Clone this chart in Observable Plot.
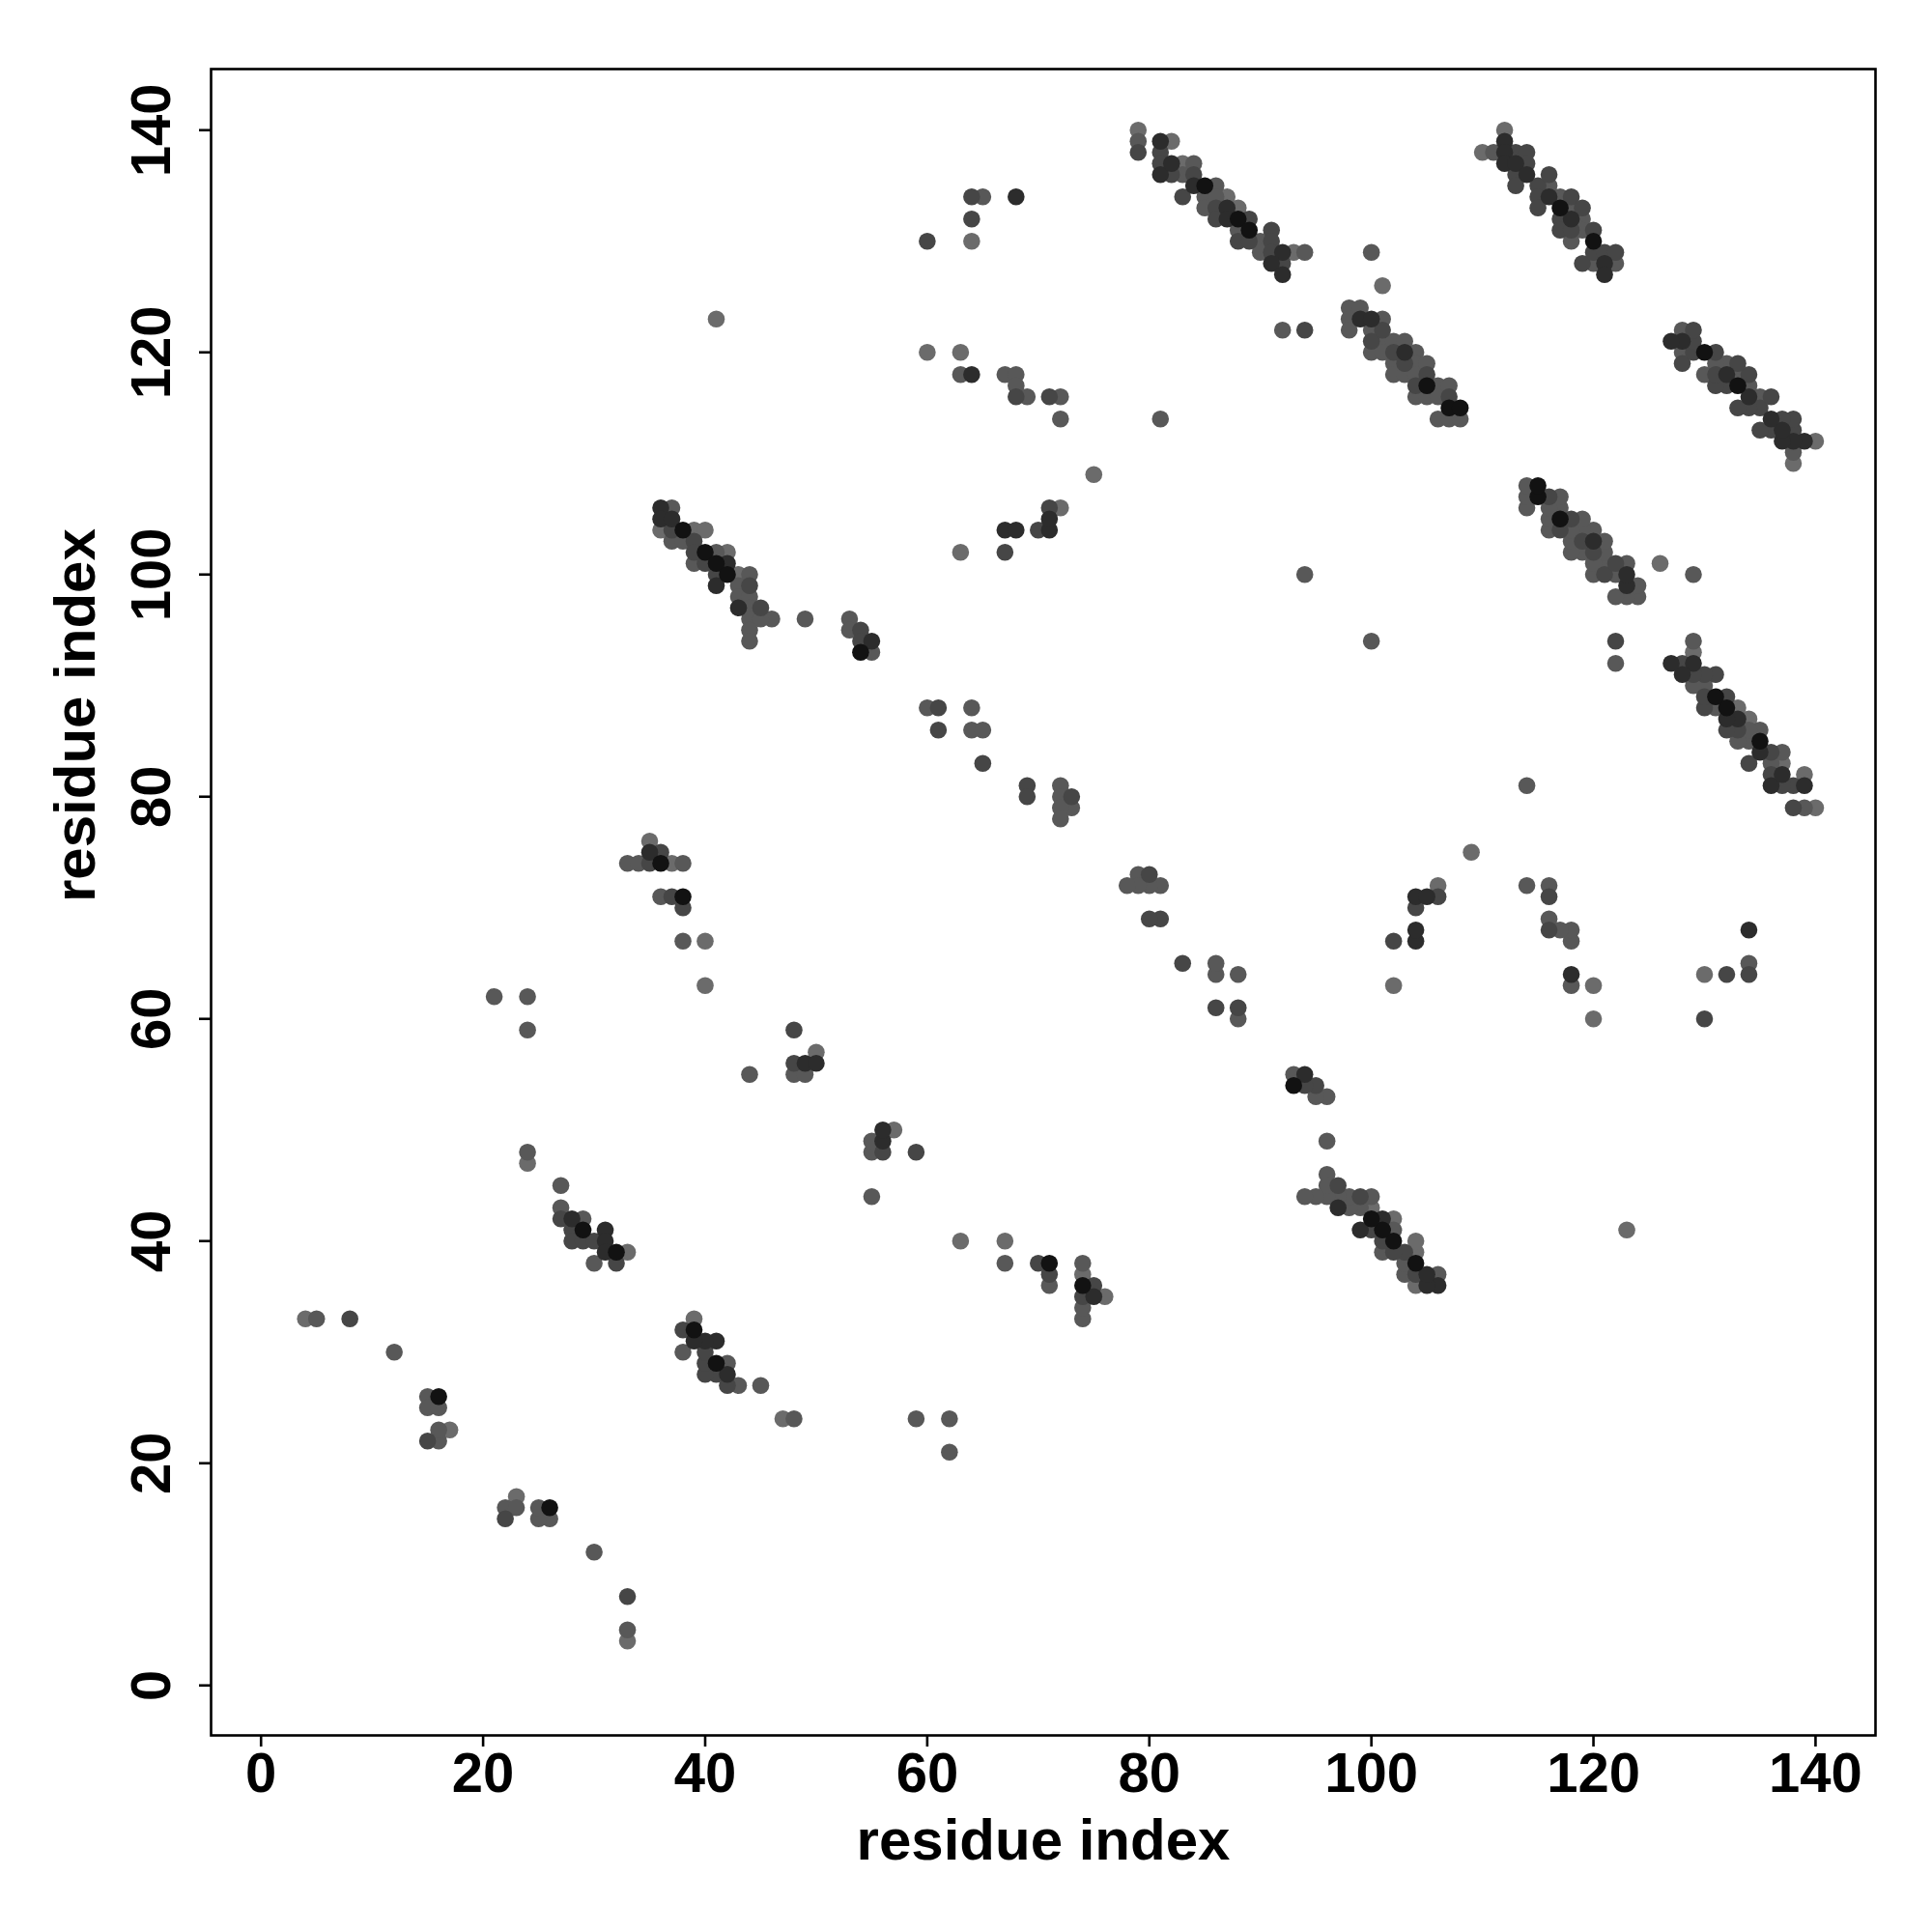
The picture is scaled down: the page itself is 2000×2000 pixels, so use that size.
<!DOCTYPE html>
<html><head><meta charset="utf-8">
<script src="https://cdn.jsdelivr.net/npm/d3@7"></script>
<script src="https://cdn.jsdelivr.net/npm/@observablehq/plot@0.6"></script>
<style>
body{margin:0;background:#fff}
#chart svg text{font-weight:700}
</style>
</head><body><div id="chart"></div>
<script>
// Tick values and titles
const xTicks = [0, 20, 40, 60, 80, 100, 120, 140];
const yTicks = [0, 20, 40, 60, 80, 100, 120, 140];
const axisTitleX = "residue index";
const axisTitleY = "residue index";

// Shade levels of the contact dots (1 = lightest grey, 5 = near black)
const shadeLevels = [1, 2, 3, 4, 5];
const shadeColors = ["#6b6b6b", "#585858", "#464646", "#2c2c2c", "#121212"];

// Contact pairs [residue i, residue j, shade]; each pair is drawn at (i,j) and (j,i)
const contactsNterm = [
  [4,33,1],[5,33,2],[8,33,3],[12,30,2],
  [15,26,2],[16,26,5],[15,25,2],[16,25,2],[15,22,3],[16,22,2],[16,23,2],[17,23,1],
  [21,62,2],[24,62,2],[24,59,2],[24,48,2],[24,47,1]
];
const contactsHairpin1 = [
  [27,45,2],[27,43,2],[27,42,3],[28,42,4],[29,42,2],[29,41,5],[28,41,3],[28,40,3],
  [29,40,3],[30,40,3],[31,41,4],[31,40,4],[31,39,4],[32,39,5],[33,39,1],[30,38,2],[32,38,3]
];
const contactsStrand35_74 = [
  [33,74,2],[34,74,2],[35,74,3],[36,74,5],[37,74,1],[38,74,2],[35,75,4],[36,75,3],[35,76,1],
  [36,71,2],[37,71,3],[38,71,5],[38,70,3],[38,67,2],[40,67,1],[40,63,1]
];
const contactsSheet40_100 = [
  [36,106,4],[37,106,2],[36,105,4],[37,105,4],[36,104,1],[37,104,3],[38,104,5],[39,104,1],[40,104,1],
  [37,103,2],[38,103,2],[39,103,3],[39,102,3],[39,101,2],[40,102,5],[41,102,2],[42,102,1],
  [40,101,3],[41,101,5],[42,101,4],[42,100,5],[41,100,3],[41,99,4],[43,100,1],[44,100,2],
  [43,99,2],[44,99,3],[43,98,2],[44,98,2],[43,97,4],[44,97,2],[45,97,3],[46,96,2],
  [44,96,2],[45,96,2],[44,95,2],[44,94,2]
];
const contactsMiddle = [
  [41,123,1],[44,55,2],[48,59,3],[48,56,3],[49,56,4],[50,57,1],[50,56,4],[48,55,2],[49,55,2],
  [49,96,2],[53,96,2],[53,95,2],[54,95,3],[54,94,3],[55,94,4],[54,93,5],[55,93,2],
  [60,88,2],[61,88,3],[64,88,2],[61,86,3],[64,86,2],[65,86,2],[65,83,3],[69,81,3],[69,80,3],
  [72,81,2],[72,80,2],[73,80,3],[73,79,2],[72,79,2],[72,78,2]
];
const contactsUpper = [
  [60,130,3],[64,134,3],[65,134,2],[64,132,3],[64,130,1],[68,134,4],
  [60,120,1],[63,120,1],[63,118,2],[64,118,4],[67,118,2],[68,118,2],[68,117,2],[68,116,3],
  [69,116,2],[71,116,3],[72,116,2],[72,114,2],
  [63,102,1],[67,104,4],[68,104,4],[67,102,3],[70,104,3],[71,104,4],[71,105,4],[71,106,3],[72,106,1],
  [75,109,1],[81,114,2],[92,122,2],[94,122,3],[94,100,2],[100,129,2],[101,126,1]
];
const contactsSheet85_135 = [
  [79,140,1],[79,139,2],[79,138,3],[81,139,4],[82,139,1],[81,138,3],[81,137,3],[81,136,4],
  [82,137,4],[82,136,3],[83,137,1],[84,137,2],[83,136,2],[84,136,3],[83,134,3],[84,135,4],
  [85,135,5],[86,135,2],[85,134,2],[86,134,2],[85,133,2],[86,133,3],[86,132,3],[87,134,1],
  [87,133,4],[88,133,1],[87,132,4],[88,132,5],[89,132,3],[88,131,2],[89,131,5],[88,130,3],
  [89,130,3],[90,130,2],[90,129,2],[91,131,3],[91,130,3],[91,129,3],[92,129,4],[93,129,1],
  [94,129,2],[91,128,4],[92,128,3],[92,127,4]
];
const contactsSheet103_119 = [
  [98,124,2],[98,123,2],[98,122,2],[99,124,2],[99,123,4],
  [100,123,4],[100,122,2],[100,121,3],[100,120,2],
  [101,123,2],[101,122,3],[101,121,2],[101,120,2],
  [102,121,2],[102,120,3],[102,119,2],[102,118,2],
  [103,121,2],[103,120,4],[103,119,3],[103,118,2],
  [104,120,2],[104,119,2],[104,118,2],[104,117,3],[104,116,2],
  [105,119,2],[105,118,3],[105,117,5],[105,116,2],
  [106,117,2],[106,116,2],[106,114,2],
  [107,117,2],[107,116,3],[107,115,5],[107,114,2],
  [108,115,5],[108,114,2]
];
const contactsSheet117_133 = [
  [110,138,1],[111,138,2],[112,140,1],[112,139,4],[112,138,4],[112,137,4],
  [113,138,3],[113,137,4],[113,136,3],[113,135,3],[114,138,3],[114,137,3],[114,136,4],
  [115,135,3],[115,134,3],[115,133,3],[116,136,3],[116,135,2],[116,134,4],
  [117,134,2],[117,133,5],[117,132,3],[117,131,3],[118,134,3],[118,133,2],[118,132,4],
  [118,131,3],[118,130,2],[119,133,3],[119,132,2],[119,131,2],[119,128,3],
  [120,131,3],[120,130,5],[120,129,3],[120,128,2],[121,129,3],[121,128,4],[121,127,4],
  [122,129,3],[122,128,2]
];

const contacts = [].concat(
  contactsNterm, contactsHairpin1, contactsStrand35_74, contactsSheet40_100,
  contactsMiddle, contactsUpper, contactsSheet85_135, contactsSheet103_119, contactsSheet117_133
).map(([i, j, s]) => ({i, j, s})).sort((a, b) => a.s - b.s);

const chart = Plot.plot({
  width: 2000,
  height: 2000,
  marginLeft: 218,
  marginRight: 59,
  marginTop: 71,
  marginBottom: 204,
  style: {fontFamily: "'Liberation Sans', Arial, sans-serif", background: "white", color: "black"},
  x: {domain: [-4.5, 145.4]},
  y: {domain: [-4.5, 145.5]},
  color: {type: "ordinal", domain: shadeLevels, range: shadeColors},
  marks: [
    Plot.dot(contacts, {x: "i", y: "j", fill: "s", r: 8.8}),
    Plot.dot(contacts, {x: "j", y: "i", fill: "s", r: 8.8}),
    Plot.frame({stroke: "black", strokeWidth: 2.6}),
    Plot.axisX(xTicks, {anchor: "bottom", tickSize: 12, strokeWidth: 2.6, tickPadding: 5,
      fontSize: 58, fontWeight: "bold", label: null}),
    Plot.axisY(yTicks, {anchor: "left", tickSize: 12, strokeWidth: 2.6, tickRotate: -90, tickPadding: 31,
      fontSize: 58, fontWeight: "bold", label: null}),
    Plot.text([axisTitleX], {frameAnchor: "bottom", dy: 128, fontSize: 60, fontWeight: "bold", text: d => d, fill: "black"}),
    Plot.text([axisTitleY], {frameAnchor: "left", dx: -140, rotate: -90, fontSize: 60, fontWeight: "bold", text: d => d, fill: "black"})
  ]
});
document.getElementById("chart").appendChild(chart);
</script>
</body></html>
